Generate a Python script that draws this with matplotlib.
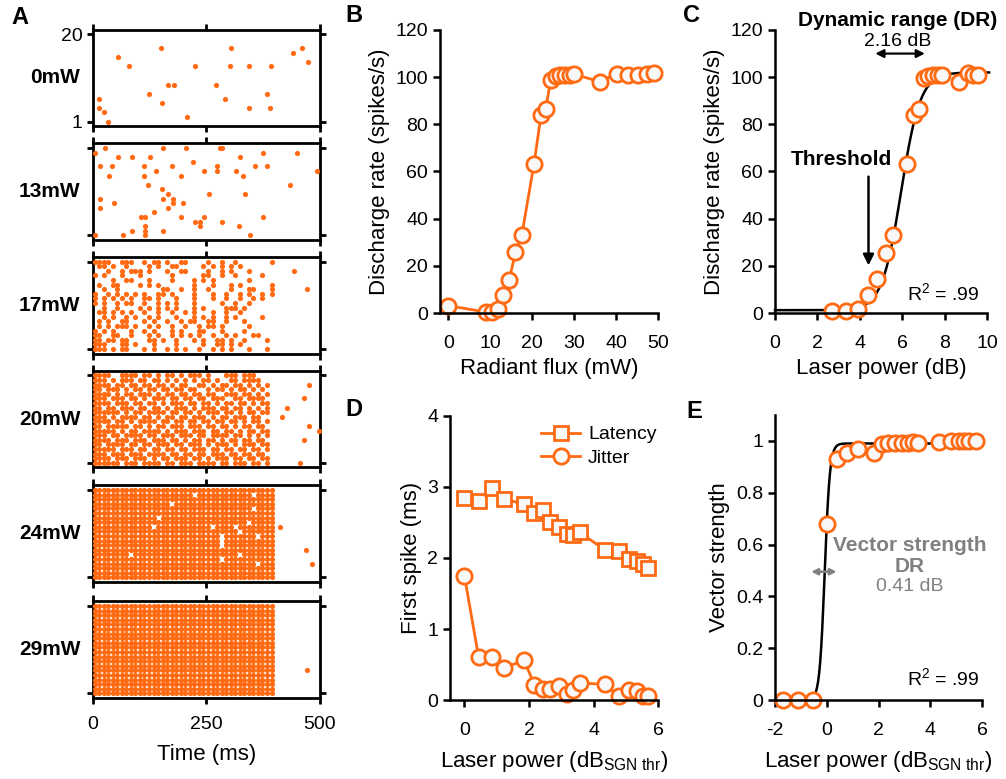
import numpy as np
import matplotlib.pyplot as plt

plt.rcParams['font.family'] = ['Liberation Sans', 'DejaVu Sans']
plt.rcParams['mathtext.fontset'] = 'custom'
plt.rcParams['mathtext.rm'] = 'Liberation Sans'
plt.rcParams['mathtext.it'] = 'Liberation Sans:italic'
plt.rcParams['mathtext.bf'] = 'Liberation Sans:bold'
plt.rcParams['axes.unicode_minus'] = False

orange = '#FF6A13'
face = '#F8F8F8'
grey = '#808080'

# ---------------- panel A: rasters ----------------
power_labels = ['0mW', '13mW', '17mW', '20mW', '24mW', '29mW']
pulse_delay = 3.5   # ms from pulse onset to spike
pulse_period = 10   # ms, 100 Hz train, 40 pulses

# (time ms, trial)
spikes_0mW = [(14, 6), (14, 4), (25, 3), (33, 1), (55, 15), (80, 13), (124, 7),
              (149, 17), (152, 5), (165, 9), (179, 9), (207, 2), (225, 13),
              (272, 9), (290, 6), (301, 13), (304, 17), (343, 13), (343, 4),
              (384, 7), (389, 4), (392, 13), (440, 16), (461, 17), (473, 14)]
spikes_13mW = [(26, 20), (155, 20), (205, 20), (279, 20), (284, 20), (5, 19),
               (375, 19), (450, 19), (56, 18), (86, 18), (126, 18), (325, 18),
               (221, 17), (16, 16), (43, 16), (113, 16), (175, 16), (274, 16),
               (356, 16), (384, 16), (138, 15), (245, 15), (274, 15), (315, 15),
               (494, 15), (36, 14), (113, 14), (193, 14), (331, 14), (121, 12),
               (434, 12), (153, 11), (166, 10), (255, 10), (334, 10), (16, 9),
               (155, 9), (176, 9), (46, 8), (176, 8), (199, 8), (16, 7), (166, 7),
               (135, 6), (105, 5), (114, 5), (193, 5), (245, 5), (375, 5),
               (225, 4), (235, 4), (284, 4), (114, 3), (235, 3), (322, 3),
               (86, 2), (114, 2), (155, 2), (5, 1), (66, 1), (114, 1), (345, 1)]

# fired pulse indices per trial, trial 20 first
cols_17mW = [[0, 1, 2, 3, 6, 7, 8, 11, 13, 14, 16, 19, 20, 25, 28, 31, 39],
             [1, 2, 4, 7, 12, 14, 17, 18, 24, 26, 28, 30, 32],
             [3, 6, 8, 9, 10, 12, 16, 19, 20, 25, 28, 30, 34],
             [0, 2, 6, 10, 17, 24, 25, 28, 31, 37],
             [4, 7, 8, 12, 17, 22, 24, 26, 34],
             [1, 4, 5, 10, 12, 14, 22, 26, 30, 32, 39],
             [2, 5, 15, 16, 19, 22, 25, 30, 34, 35, 39],
             [0, 3, 5, 7, 9, 11, 14, 15, 17, 22, 26, 29, 32, 34, 37, 39],
             [0, 2, 4, 6, 8, 11, 12, 14, 18, 22, 26, 29, 32, 35, 37],
             [0, 2, 5, 7, 8, 11, 14, 16, 18, 22, 28, 31, 34],
             [2, 5, 10, 12, 14, 16, 18, 22, 24, 29, 30, 31, 33],
             [1, 2, 4, 6, 8, 11, 14, 17, 20, 22, 26, 29, 32],
             [2, 4, 7, 9, 12, 14, 18, 22, 24, 26, 29, 31, 37],
             [1, 3, 6, 7, 11, 13, 16, 19, 21, 22, 25, 26, 29, 33],
             [1, 3, 5, 6, 7, 9, 12, 14, 17, 20, 23, 25, 26, 28, 34],
             [0, 2, 4, 8, 11, 13, 17, 19, 23, 24, 28, 33],
             [0, 1, 4, 5, 8, 12, 14, 17, 19, 21, 23, 26, 29, 31, 35, 36],
             [0, 1, 3, 4, 6, 7, 12, 13, 15, 18, 22, 24, 27, 28, 30, 33, 38],
             [0, 1, 2, 6, 7, 9, 13, 18, 24, 27, 28, 30, 32],
             [0, 1, 2, 4, 6, 7, 11, 13, 16, 18, 20, 23, 26, 28, 30, 34, 38]]
extra_17mW = [(444, 18), (472, 14)]

rows_20mW = ["1111001111011010110101110100011101110000",
             "1110101110110110101010101101001101111000",
             "1111011011011011010110011010110110101010",
             "1101110101101101101101100101101011010100",
             "1111010110111010110110110110011101101010",
             "1110111011010111011011011011100110111100",
             "1111011101101101011101101101011011010110",
             "1101101110110110101110101110110110101010",
             "1111110101101111011011010111011010110110",
             "1110101111011010110110111010110111011000",
             "1111011010111101101101101101101101011010",
             "1101111101101011011101110110110101101100",
             "1111101011011110101110111011011010110110",
             "1110110111101101110111011011110110101010",
             "1111011101110111011010110110101101101100",
             "1101111011011011101101110101110101110110",
             "1111101110110110110110111011011011011010",
             "1110111011101111011011011011101101101100",
             "1111011101110101101110110101110110110110",
             "1111110111011110110111011110110111011010"]
extra_20mW = [(475, 18), (465, 15), (428, 13), (416, 11), (475, 9), (498, 8),
              (465, 6), (456, 1)]

# missing pulses (row from top, pulse index) in the saturated rasters
holes_24mW = [(1, 22), (1, 35), (3, 17), (4, 35), (6, 14), (7, 34), (8, 13),
              (8, 26), (8, 31), (9, 32), (10, 28), (10, 36), (11, 28), (12, 28),
              (14, 8), (14, 32), (15, 28), (16, 36)]
extra_24mW = [(412, 12), (470, 7), (483, 4)]
holes_29mW = []
extra_29mW = [(472, 6)]

# ---------------- panel B / C ----------------
flux_mW = [0, 8.9, 10.3, 11.9, 13.1, 14.5, 16.0, 17.5, 20.4, 22.1, 23.2, 24.4,
           25.6, 26.7, 27.9, 28.9, 30.0, 36.1, 40.1, 42.9, 45.2, 47.4, 49.0]
rate_B = [3.1, 0.4, 0.5, 1.8, 7.8, 14.1, 25.7, 33.0, 63.0, 84.0, 86.4, 98.8,
          100.5, 101, 101, 101, 101.2, 98.1, 101.4, 100.9, 100.9, 101.4, 101.6]

laser_dB = [2.71, 3.34, 3.91, 4.41, 4.83, 5.24, 5.56, 6.22, 6.58, 6.80, 7.01,
            7.23, 7.47, 7.70, 7.86, 8.68, 9.12, 9.35, 9.59]
rate_C = [1.0, 1.0, 1.7, 7.8, 14.4, 25.4, 33.0, 63.0, 84.0, 86.4, 99.5,
          100.6, 101, 101, 101, 98.1, 101.7, 101, 101]

# ---------------- panel D / E ----------------
rel_dB = [0, 0.44, 0.85, 1.21, 1.85, 2.17, 2.42, 2.66, 2.92, 3.17, 3.36, 3.57,
          4.37, 4.80, 5.10, 5.34, 5.53, 5.70]
latency = [2.85, 2.80, 2.98, 2.83, 2.76, 2.64, 2.68, 2.51, 2.44, 2.34, 2.32,
           2.36, 2.11, 2.10, 1.99, 1.96, 1.91, 1.86]
jitter = [1.74, 0.60, 0.61, 0.45, 0.56, 0.21, 0.16, 0.15, 0.20, 0.08, 0.14,
          0.24, 0.22, 0.05, 0.14, 0.13, 0.06, 0.06]

vs_dB = [-1.68, -1.11, -0.54, 0.0, 0.41, 0.77, 1.20, 1.81, 2.13, 2.36, 2.63,
         2.89, 3.14, 3.33, 3.52, 4.35, 4.79, 5.11, 5.30, 5.49, 5.75]
vs = [0, 0, 0, 0.681, 0.932, 0.955, 0.968, 0.955, 0.987, 0.99, 0.99, 0.99,
      0.99, 0.995, 0.99, 0.996, 1.0, 1.0, 1.0, 1.0, 1.0]


def grid_spikes(rows=None, cols=None, holes=None):
    pts = []
    for r in range(20):
        trial = 20 - r
        if rows is not None:
            fired = [c for c, ch in enumerate(rows[r]) if ch == '1']
        elif cols is not None:
            fired = cols[r]
        else:
            fired = [c for c in range(40) if (r, c) not in holes]
        for c in fired:
            pts.append((pulse_delay + pulse_period * c, trial))
    return pts


raster_data = [spikes_0mW,
               spikes_13mW,
               grid_spikes(cols=cols_17mW) + extra_17mW,
               grid_spikes(rows=rows_20mW) + extra_20mW,
               grid_spikes(holes=holes_24mW) + extra_24mW,
               grid_spikes(holes=holes_29mW) + extra_29mW]

fig = plt.figure(figsize=(10.06, 7.79), dpi=100)

bottoms = [0.838, 0.692, 0.546, 0.400, 0.253, 0.104]
for i in range(6):
    ax = fig.add_axes([0.0924, bottoms[i], 0.2256, 0.124])
    pts = np.array(raster_data[i])
    ax.scatter(pts[:, 0], pts[:, 1], s=14, color=orange, linewidths=0, clip_on=False, zorder=3)
    ax.set_xlim(0, 500)
    ax.set_ylim(0, 21)
    ax.set_xticks([0, 250, 500])
    ax.set_yticks([1, 20])
    ax.tick_params(top=True, right=True, direction='out', length=4, width=2,
                   labelsize=14, labelbottom=(i == 5), labelleft=(i == 0))
    ax.tick_params(axis='x', pad=9)
    for sp in ax.spines.values():
        sp.set_linewidth(2)
    ax.text(-0.055, 0.5, power_labels[i], transform=ax.transAxes, ha='right',
            va='center', fontsize=15, fontweight='bold')
    if i == 5:
        ax.set_xlabel('Time (ms)', fontsize=16, labelpad=8)


def style(ax):
    for s in ['top', 'right']:
        ax.spines[s].set_visible(False)
    for s in ['left', 'bottom']:
        ax.spines[s].set_linewidth(1.8)
    ax.tick_params(direction='out', length=5, width=1.8, labelsize=14)
    ax.tick_params(axis='x', pad=11)


mk = dict(marker='o', markersize=11, markerfacecolor=face, markeredgecolor=orange,
          markeredgewidth=2, clip_on=False)

# B
axB = fig.add_axes([0.4374, 0.5982, 0.2167, 0.3633])
axB.plot(flux_mW, rate_B, color=orange, lw=2, **mk)
axB.set_xlim(-2, 50)
axB.set_ylim(0, 120)
axB.set_xticks(range(0, 51, 10))
axB.set_yticks(range(0, 121, 20))
axB.set_xlabel('Radiant flux (mW)', fontsize=16)
axB.set_ylabel('Discharge rate (spikes/s)', fontsize=16)
style(axB)

# C
axC = fig.add_axes([0.7704, 0.5982, 0.2107, 0.3633])
xf = np.linspace(0, 10.1, 300)
fitC = 1.2 + (102 - 1.2) / (1 + np.exp(-2.2 * (xf - 5.95)))
axC.plot(xf, fitC, color='k', lw=1.8, clip_on=False)
axC.plot(laser_dB, rate_C, ls='none', **mk)
axC.set_xlim(0, 10)
axC.set_ylim(0, 120)
axC.set_xticks(range(0, 11, 2))
axC.set_yticks(range(0, 121, 20))
axC.set_xlabel('Laser power (dB)', fontsize=16)
axC.set_ylabel('Discharge rate (spikes/s)', fontsize=16)
style(axC)
axC.annotate('', xy=(4.41, 19), xytext=(4.41, 59),
             arrowprops=dict(arrowstyle='-|>', color='k', lw=1.8, mutation_scale=16))
axC.text(3.15, 65, 'Threshold', ha='center', va='center', fontsize=15, fontweight='bold')
axC.annotate('', xy=(4.6, 110), xytext=(7.2, 110), annotation_clip=False,
             arrowprops=dict(arrowstyle='<|-|>', color='k', lw=1.6, mutation_scale=12))
axC.text(5.8, 115, '2.16 dB', ha='center', va='center', fontsize=14)
axC.text(5.8, 124, 'Dynamic range (DR)', ha='center', va='center', fontsize=15,
         fontweight='bold', clip_on=False)
axC.text(7.95, 8.5, r'R$^2$ = .99', ha='center', va='center', fontsize=14)

# D
axD = fig.add_axes([0.4473, 0.1014, 0.2068, 0.3646])
axD.plot(rel_dB, latency, color=orange, lw=2, marker='s', markersize=10,
         markerfacecolor=face, markeredgecolor=orange, markeredgewidth=2,
         clip_on=False, label='Latency')
axD.plot(rel_dB, jitter, color=orange, lw=2, label='Jitter', **mk)
axD.set_xlim(-0.45, 6)
axD.set_ylim(0, 4)
axD.set_xticks([0, 2, 4, 6])
axD.set_yticks([0, 1, 2, 3, 4])
axD.set_xlabel(r'Laser power (dB$_{\rm SGN\ thr}$)', fontsize=16, labelpad=7)
axD.set_ylabel('First spike (ms)', fontsize=16)
style(axD)
axD.legend(loc='upper right', bbox_to_anchor=(1.04, 1.0), frameon=False,
           fontsize=14, handlelength=2.0, handletextpad=0.4, labelspacing=0.3,
           borderpad=0)

# E
axE = fig.add_axes([0.7704, 0.1014, 0.2058, 0.3659])
xe = np.linspace(-2, 6, 400)
fitE = 0.99 / (1 + np.exp(-10 * (xe + 0.08)))
axE.plot(xe, fitE, color='k', lw=1.8)
axE.plot(vs_dB, vs, ls='none', **mk)
axE.set_xlim(-2, 6)
axE.set_ylim(0, 1.1)
axE.set_xticks([-2, 0, 2, 4, 6])
axE.set_yticks([0, 0.2, 0.4, 0.6, 0.8, 1.0])
axE.set_yticklabels(['0', '0.2', '0.4', '0.6', '0.8', '1'])
axE.set_xlabel(r'Laser power (dB$_{\rm SGN\ thr}$)', fontsize=16, labelpad=7)
axE.set_ylabel('Vector strength', fontsize=16)
style(axE)
axE.annotate('', xy=(-0.6, 0.495), xytext=(0.38, 0.495), zorder=5,
             arrowprops=dict(arrowstyle='<|-|>', color=grey, lw=1.8, mutation_scale=9,
                             shrinkA=0, shrinkB=0))
axE.text(3.22, 0.597, 'Vector strength', ha='center', va='center', fontsize=15,
         fontweight='bold', color=grey)
axE.text(3.22, 0.516, 'DR', ha='center', va='center', fontsize=15,
         fontweight='bold', color=grey)
axE.text(3.22, 0.438, '0.41 dB', ha='center', va='center', fontsize=14, color=grey)
axE.text(4.49, 0.085, r'R$^2$ = .99', ha='center', va='center', fontsize=14)

# panel letters
for lab, x, y in [('A', 20, 18), ('B', 354, 16), ('C', 692, 16), ('D', 354, 410), ('E', 694, 412)]:
    fig.text(x / 1006, 1 - y / 779, lab, ha='center', va='center', fontsize=17,
             fontweight='bold')

fig.savefig('out.png', dpi=100)
